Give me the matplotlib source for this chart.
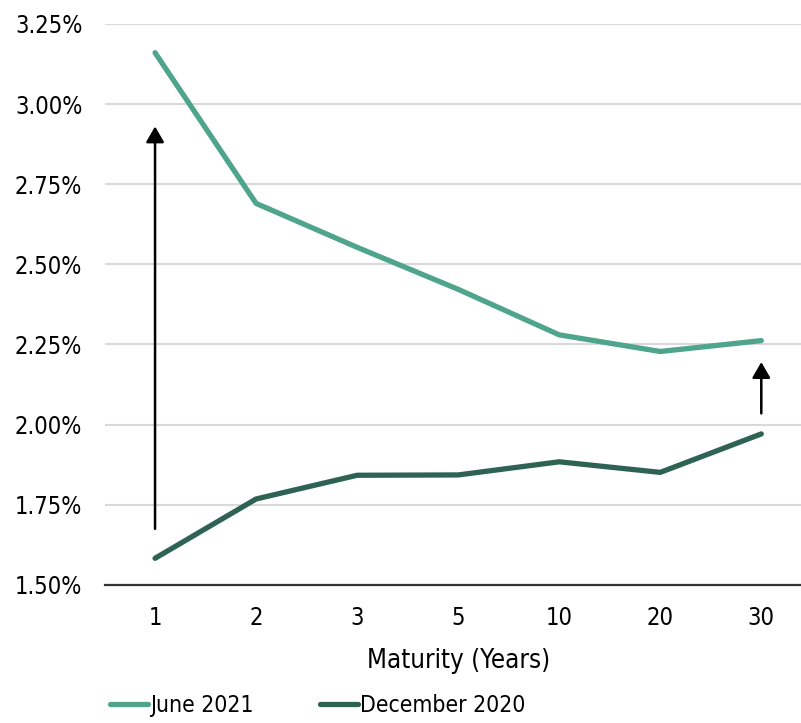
import matplotlib.pyplot as plt
from matplotlib.ticker import FuncFormatter

# Yield curve by maturity, in percent
maturities = ["1", "2", "3", "5", "10", "20", "30"]
june_2021 = [3.16, 2.69, 2.553, 2.422, 2.28, 2.228, 2.262]
december_2020 = [1.583, 1.768, 1.842, 1.843, 1.884, 1.851, 1.971]

# Arrows showing the move between the two dates (start, end) at first and last maturity
shift_arrows = [(0, 1.675, 2.93), (6, 2.035, 2.195)]

plt.rcParams["font.family"] = ["DejaVu Sans"]
plt.rcParams["font.stretch"] = "condensed"

fig = plt.figure(figsize=(8.01, 7.23), dpi=100)
ax = fig.add_axes([0.1305, 0.191, 0.883, 0.776])

x = list(range(len(maturities)))
ax.plot(x, june_2021, color="#4ea58b", lw=3.8, solid_capstyle="round",
        solid_joinstyle="round", label="June 2021", zorder=3)
ax.plot(x, december_2020, color="#2e6354", lw=3.8, solid_capstyle="round",
        solid_joinstyle="round", label="December 2020", zorder=3)

for xi, y0, y1 in shift_arrows:
    ax.annotate("", xy=(xi, y1), xytext=(xi, y0),
                arrowprops=dict(arrowstyle="-|>,head_length=0.95,head_width=0.55",
                                color="black", lw=1.8, shrinkA=0, shrinkB=0),
                zorder=4)

ax.set_xlim(-0.5, 6.5)
ax.set_ylim(1.5, 3.25)
ax.set_yticks([1.5, 1.75, 2.0, 2.25, 2.5, 2.75, 3.0, 3.25])
ax.yaxis.set_major_formatter(FuncFormatter(lambda v, _: f"{v:.2f}%"))
ax.set_xticks(x)
ax.set_xticklabels(maturities)
ax.tick_params(length=0, labelsize=17, colors="black")
ax.tick_params(axis="x", pad=15)
ax.tick_params(axis="y", pad=16)
ax.grid(axis="y", color="#d9d9d9", lw=1.5)
ax.set_axisbelow(True)
for side in ("left", "right", "top"):
    ax.spines[side].set_visible(False)
ax.spines["bottom"].set_color("#333333")
ax.spines["bottom"].set_linewidth(1.6)
ax.spines["bottom"].set_zorder(5)
ax.set_xlabel("Maturity (Years)", fontsize=18.5, labelpad=13)

fig.legend(loc="lower left", bbox_to_anchor=(0.126, -0.004), ncol=2,
           frameon=False, fontsize=16.5, handlelength=1.66, handletextpad=0.08,
           columnspacing=2.9, borderaxespad=0)

fig.savefig("out.png", dpi=100)
